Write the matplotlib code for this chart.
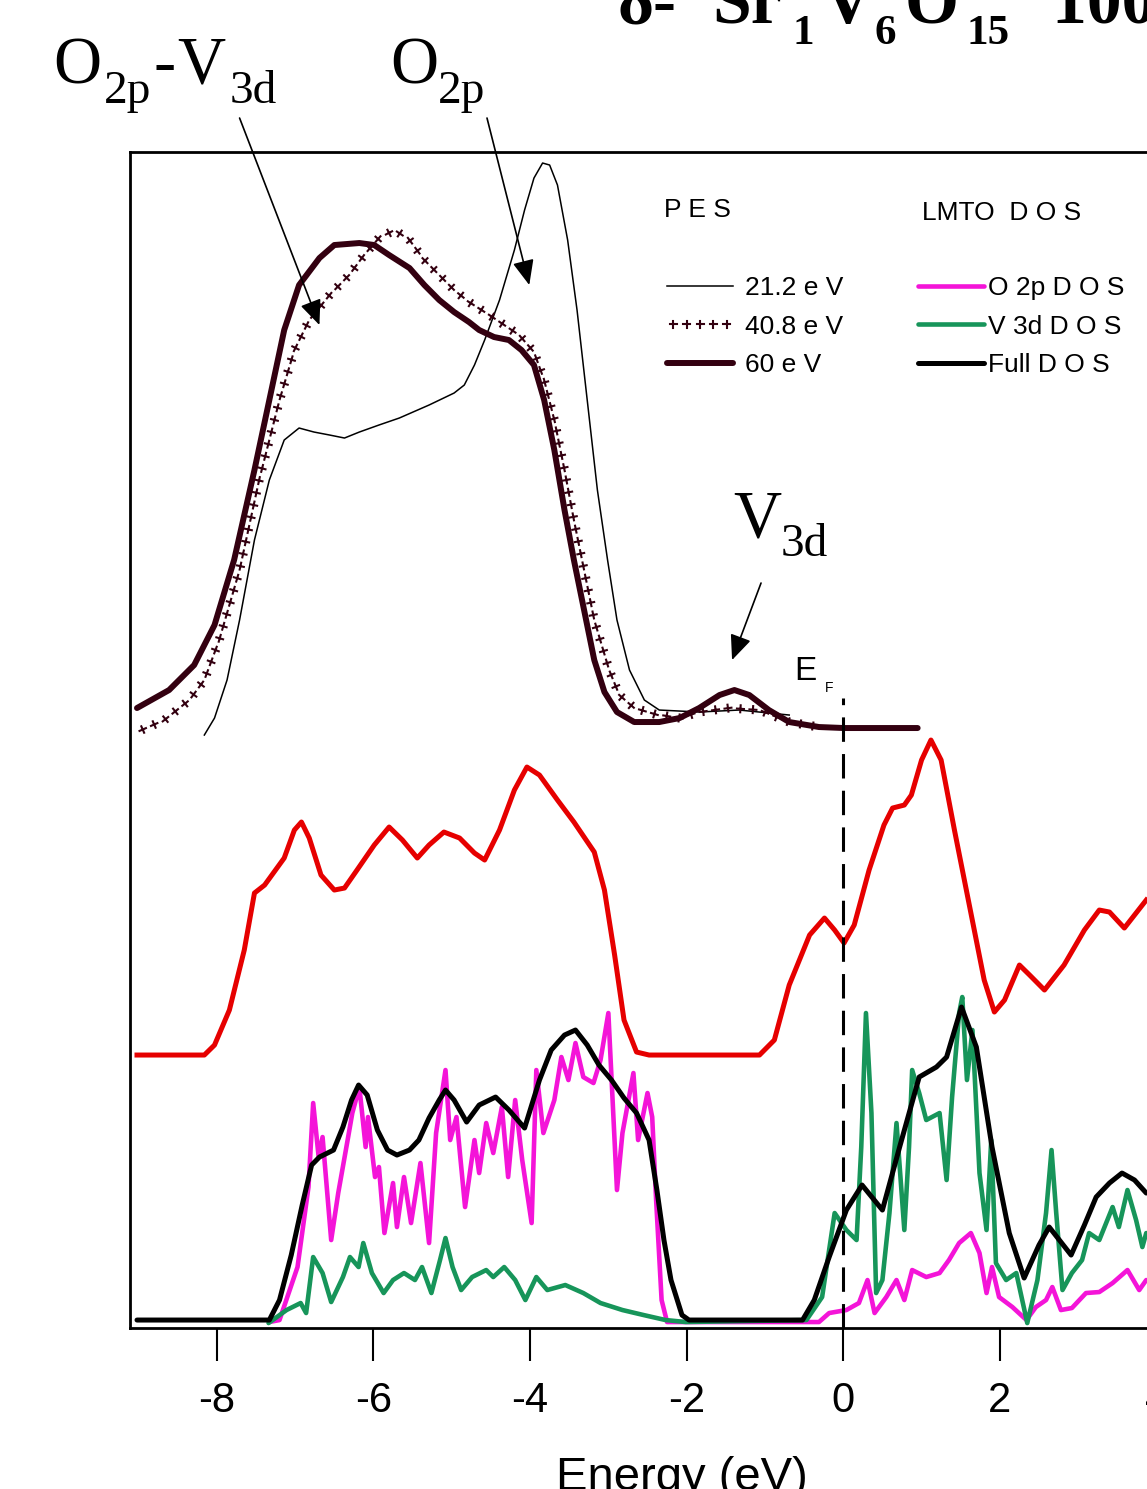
import matplotlib.pyplot as plt
import matplotlib.patheffects as pe

# PES spectra (offset, arb. units) vs energy relative to E_F
e_212 = [-8.16, -8.03, -7.87, -7.71, -7.52, -7.33, -7.14, -6.95, -6.76, -6.56, -6.37, -6.18, -5.93, -5.67,
         -5.29, -4.97, -4.84, -4.71, -4.58, -4.39, -4.20, -4.07, -3.95, -3.84, -3.75, -3.65, -3.52, -3.40,
         -3.27, -3.14, -3.01, -2.89, -2.73, -2.54, -2.35, -1.84, -1.33, -0.69]
i_212 = [5.93, 6.10, 6.48, 7.08, 7.88, 8.48, 8.88, 9.00, 8.96, 8.93, 8.90, 8.96, 9.03, 9.10,
         9.23, 9.35, 9.43, 9.63, 9.88, 10.28, 10.78, 11.18, 11.50, 11.65, 11.63, 11.43, 10.88, 10.18,
         9.28, 8.38, 7.68, 7.08, 6.58, 6.28, 6.18, 6.16, 6.18, 6.13]

e_408 = [-9.02, -8.67, -8.35, -8.16, -7.97, -7.71, -7.46, -7.20, -7.01, -6.82, -6.56, -6.31, -6.12, -5.93,
         -5.73, -5.54, -5.35, -5.16, -4.97, -4.78, -4.52, -4.33, -4.14, -3.95, -3.82, -3.69, -3.56, -3.44,
         -3.31, -3.18, -2.99, -2.86, -2.67, -2.41, -2.09, -1.84, -1.46, -1.07, -0.69, -0.31]
i_408 = [5.96, 6.08, 6.28, 6.48, 6.88, 7.58, 8.48, 9.28, 9.78, 10.08, 10.33, 10.53, 10.73, 10.90,
         10.98, 10.88, 10.68, 10.53, 10.38, 10.26, 10.13, 10.03, 9.93, 9.76, 9.48, 9.08, 8.58, 8.08,
         7.58, 7.08, 6.58, 6.33, 6.20, 6.14, 6.10, 6.16, 6.20, 6.18, 6.06, 6.01]

e_60 = [-9.02, -8.61, -8.29, -8.03, -7.78, -7.52, -7.33, -7.14, -6.95, -6.69, -6.50, -6.18, -5.99, -5.80,
        -5.54, -5.35, -5.16, -4.97, -4.78, -4.65, -4.46, -4.27, -4.11, -3.95, -3.82, -3.69, -3.56, -3.44,
        -3.31, -3.18, -3.05, -2.89, -2.67, -2.35, -2.09, -1.84, -1.58, -1.39, -1.20, -0.95, -0.69, -0.31,
        0.01, 0.95]
i_60 = [6.20, 6.38, 6.63, 7.03, 7.68, 8.58, 9.28, 9.98, 10.43, 10.70, 10.83, 10.85, 10.83, 10.73,
        10.60, 10.43, 10.28, 10.16, 10.06, 9.98, 9.91, 9.88, 9.78, 9.63, 9.28, 8.78, 8.18, 7.68,
        7.18, 6.68, 6.36, 6.16, 6.06, 6.06, 6.10, 6.20, 6.33, 6.38, 6.33, 6.18, 6.06, 6.01,
        6.00, 6.00]

# broadened LMTO DOS (offset)
e_broad = [-9.02, -8.16, -8.03, -7.84, -7.65, -7.52, -7.39, -7.14, -7.01, -6.92, -6.82, -6.67, -6.50, -6.37,
           -6.21, -5.99, -5.80, -5.63, -5.44, -5.29, -5.10, -4.90, -4.71, -4.58, -4.39, -4.20, -4.04, -3.88,
           -3.65, -3.44, -3.18, -3.05, -2.92, -2.80, -2.64, -2.48, -1.07, -0.88, -0.69, -0.43, -0.24, -0.11,
           0.01, 0.14, 0.33, 0.52, 0.63, 0.78, 0.87, 1.00, 1.12, 1.25, 1.42, 1.61, 1.80, 1.93,
           2.06, 2.25, 2.38, 2.57, 2.82, 3.08, 3.27, 3.40, 3.59, 3.87]
i_broad = [2.73, 2.73, 2.83, 3.18, 3.78, 4.35, 4.43, 4.70, 4.98, 5.06, 4.90, 4.53, 4.38, 4.40,
           4.58, 4.83, 5.01, 4.88, 4.70, 4.83, 4.96, 4.90, 4.75, 4.68, 4.98, 5.38, 5.61, 5.53,
           5.28, 5.06, 4.76, 4.38, 3.73, 3.08, 2.76, 2.73, 2.73, 2.88, 3.43, 3.93, 4.10, 3.98,
           3.85, 4.03, 4.58, 5.03, 5.20, 5.23, 5.33, 5.68, 5.88, 5.68, 4.98, 4.23, 3.48, 3.16,
           3.28, 3.63, 3.53, 3.38, 3.63, 3.98, 4.18, 4.16, 4.00, 4.28]

# LMTO partial and total DOS
e_o2p = [-7.33, -7.20, -6.97, -6.83, -6.77, -6.70, -6.65, -6.54, -6.45, -6.33, -6.27, -6.18, -6.10, -6.07,
         -5.98, -5.93, -5.86, -5.75, -5.70, -5.61, -5.52, -5.40, -5.29, -5.20, -5.08, -5.02, -4.94, -4.83,
         -4.71, -4.65, -4.56, -4.47, -4.36, -4.28, -4.19, -4.10, -3.98, -3.92, -3.83, -3.69, -3.60, -3.51,
         -3.42, -3.32, -3.19, -3.10, -3.00, -2.89, -2.82, -2.68, -2.62, -2.50, -2.44, -2.39, -2.32, -2.25,
         -0.31, -0.18, 0.04, 0.20, 0.31, 0.40, 0.55, 0.68, 0.78, 0.88, 1.06, 1.23, 1.35, 1.48,
         1.63, 1.74, 1.83, 1.90, 1.99, 2.16, 2.34, 2.46, 2.59, 2.67, 2.78, 2.92, 3.10, 3.27,
         3.44, 3.63, 3.78, 3.87]
d_o2p = [0.06, 0.08, 0.61, 1.41, 2.25, 1.71, 1.91, 0.88, 1.35, 1.88, 2.15, 2.41, 1.81, 2.11,
         1.51, 1.61, 0.95, 1.45, 1.01, 1.51, 1.05, 1.65, 0.85, 1.95, 2.58, 1.88, 2.11, 1.21,
         1.88, 1.55, 2.05, 1.75, 2.21, 1.51, 2.28, 1.68, 1.05, 2.58, 1.95, 2.28, 2.71, 2.48,
         2.85, 2.51, 2.45, 2.68, 3.15, 1.38, 1.95, 2.55, 1.88, 2.35, 2.11, 1.28, 0.28, 0.06,
         0.06, 0.15, 0.18, 0.25, 0.48, 0.15, 0.31, 0.48, 0.28, 0.58, 0.51, 0.55, 0.68, 0.85,
         0.95, 0.75, 0.35, 0.61, 0.31, 0.21, 0.08, 0.21, 0.28, 0.41, 0.18, 0.20, 0.35, 0.36,
         0.45, 0.58, 0.38, 0.48]

e_v3d = [-7.34, -7.11, -6.93, -6.86, -6.77, -6.65, -6.54, -6.39, -6.30, -6.19, -6.13, -6.02, -5.87, -5.75,
         -5.61, -5.47, -5.38, -5.26, -5.15, -5.08, -4.99, -4.88, -4.74, -4.56, -4.47, -4.33, -4.19, -4.06,
         -3.92, -3.78, -3.55, -3.32, -3.10, -2.82, -2.55, -2.27, -2.01,
         -0.47, -0.27, -0.11, 0.04, 0.17, 0.23, 0.29, 0.36, 0.42, 0.50, 0.59, 0.68, 0.78, 0.84,
         0.88, 0.97, 1.06, 1.23, 1.32, 1.39, 1.48, 1.52, 1.58, 1.65, 1.74, 1.83, 1.89, 1.95,
         2.08, 2.21, 2.35, 2.48, 2.59, 2.66, 2.72, 2.80, 2.92, 3.05, 3.14, 3.27, 3.44, 3.52,
         3.63, 3.74, 3.82, 3.87]
d_v3d = [0.05, 0.18, 0.25, 0.15, 0.71, 0.55, 0.26, 0.51, 0.71, 0.61, 0.85, 0.55, 0.35, 0.48,
         0.55, 0.48, 0.61, 0.35, 0.68, 0.90, 0.61, 0.38, 0.51, 0.58, 0.51, 0.61, 0.48, 0.28,
         0.51, 0.38, 0.43, 0.35, 0.25, 0.18, 0.13, 0.08, 0.06,
         0.08, 0.31, 1.15, 0.98, 0.88, 1.81, 3.15, 2.15, 0.35, 0.48, 1.15, 2.05, 0.98, 1.81,
         2.58, 2.35, 2.08, 2.15, 1.48, 2.31, 3.15, 3.31, 2.48, 2.98, 1.55, 0.98, 1.88, 0.65,
         0.48, 0.55, 0.05, 0.48, 1.15, 1.78, 1.15, 0.38, 0.55, 0.68, 0.95, 0.88, 1.21, 1.01,
         1.38, 1.08, 0.81, 0.95]

e_full = [-9.02, -7.33, -7.20, -7.05, -6.91, -6.79, -6.69, -6.51, -6.39, -6.28, -6.19, -6.08, -5.95, -5.82,
          -5.70, -5.54, -5.42, -5.29, -5.16, -5.08, -4.97, -4.81, -4.65, -4.44, -4.27, -4.07, -3.88, -3.73,
          -3.56, -3.42, -3.27, -3.12, -2.96, -2.80, -2.64, -2.48, -2.38, -2.29, -2.20, -2.06, -1.97, -0.52,
          -0.37, -0.18, 0.04, 0.24, 0.50, 0.72, 0.97, 1.19, 1.32, 1.51, 1.70, 1.90, 2.12, 2.31,
          2.50, 2.63, 2.76, 2.91, 3.08, 3.23, 3.40, 3.56, 3.72, 3.87]
d_full = [0.08, 0.08, 0.28, 0.73, 1.23, 1.63, 1.71, 1.78, 2.01, 2.28, 2.43, 2.33, 1.98, 1.78,
          1.73, 1.78, 1.88, 2.10, 2.28, 2.38, 2.28, 2.06, 2.23, 2.31, 2.18, 2.00, 2.48, 2.78,
          2.93, 2.98, 2.83, 2.63, 2.48, 2.30, 2.15, 1.88, 1.38, 0.88, 0.48, 0.13, 0.08, 0.08,
          0.28, 0.71, 1.18, 1.43, 1.18, 1.81, 2.51, 2.61, 2.71, 3.21, 2.81, 1.81, 0.95, 0.50,
          0.83, 1.01, 0.88, 0.73, 1.03, 1.31, 1.45, 1.55, 1.48, 1.35]

ticks = [-8, -6, -4, -2, 0, 2, 4]
tick_labels = ['-8', '-6', '-4', '-2', '0', '2', '4']
e_fermi = 0.0
fermi_top = 6.3

plt.rcParams['font.family'] = ['Liberation Sans', 'DejaVu Sans']

W, H = 1147, 1489
fig = plt.figure(figsize=(W / 100, H / 100), dpi=100)
ax = fig.add_axes([0.1133, 0.1081, 0.9632, 0.7898])


def put(x, base, s, size, **kw):
    # place a text piece by pixel position (left edge, baseline)
    fig.text(x / W, 1 - base / H, s, fontsize=size, va='baseline', **kw)


dark = '#330010'
# PES curves
l212, = ax.plot(e_212, i_212, color='black', lw=1.1)
plus = [pe.TickedStroke(spacing=9, angle=a, length=0.28) for a in (0, 90, 180, -90)]
l408, = ax.plot(e_408, i_408, color=dark, lw=1.5, path_effects=plus)
l60, = ax.plot(e_60, i_60, color=dark, lw=4.3, solid_capstyle='round')

# broadened DOS
ax.plot(e_broad, i_broad, color='#e60000', lw=3.6)

# partial and full DOS
lo, = ax.plot(e_o2p, d_o2p, color='#f414d8', lw=3.3, solid_capstyle='round')
lv, = ax.plot(e_v3d, d_v3d, color='#17955a', lw=3.3, solid_capstyle='round')
lf, = ax.plot(e_full, d_full, color='black', lw=3.6, solid_capstyle='round')

# Fermi level
ax.vlines(e_fermi, 0, fermi_top, colors='black', linestyles=(0, (8, 4)), lw=2.2)
ax.text(-0.63, 6.48, 'E', fontsize=24, va='baseline')
ax.text(-0.24, 6.36, 'F', fontsize=10, va='baseline')

ax.set_xlim(-9.11, 5.0)
ax.set_ylim(0, 11.76)
ax.set_yticks([])
ax.set_xticks(ticks, tick_labels)
ax.tick_params(axis='x', length=24, width=1.5, pad=14, labelsize=30)
ax.set_xlabel('Energy (eV)', fontsize=34, labelpad=25)
ax.spines['right'].set_visible(False)
for s in ['left', 'top', 'bottom']:
    ax.spines[s].set_linewidth(2)

# legends
lfont = {'size': 19}
ax.text(-2.29, 11.18, 'P E S', fontsize=19, va='center')
ax.text(1.01, 11.15, 'LMTO  D O S', fontsize=19, va='center')
leg1 = ax.legend([l212, l408, l60], ['21.2 e V', '40.8 e V', '60 e V'], loc='upper left',
                 bbox_to_anchor=(-2.25, 10.52), bbox_transform=ax.transData, frameon=False,
                 prop=lfont, handlelength=2.5, handletextpad=0.45, labelspacing=0.55,
                 borderpad=0, borderaxespad=0)
ax.add_artist(leg1)
ax.legend([lo, lv, lf], ['O 2p D O S', 'V 3d D O S', 'Full D O S'], loc='upper left',
          bbox_to_anchor=(0.95, 10.52), bbox_transform=ax.transData, frameon=False,
          prop=lfont, handlelength=2.5, handletextpad=0.15, labelspacing=0.55,
          borderpad=0, borderaxespad=0)

# peak assignments
arrow = dict(arrowstyle='-|>,head_length=0.7,head_width=0.3', color='black', lw=1.2,
             shrinkA=0, shrinkB=0, mutation_scale=22)
ax.annotate('', xy=(-6.69, 10.03), xytext=(-7.71, 12.10), arrowprops=arrow, annotation_clip=False)
ax.annotate('', xy=(-4.01, 10.43), xytext=(-4.55, 12.10), arrowprops=arrow, annotation_clip=False)
ax.annotate('', xy=(-1.42, 6.68), xytext=(-1.05, 7.45), arrowprops=arrow, annotation_clip=False)

serif = {'family': 'Liberation Serif'}
put(53, 83, 'O', 48, **serif)
put(104, 103, '2p', 34, **serif)
put(153, 83, '-', 48, **serif)
put(177, 83, 'V', 48, **serif)
put(230, 103, '3d', 34, **serif)
put(390, 83, 'O', 48, **serif)
put(438, 103, '2p', 34, **serif)
put(733, 537, 'V', 48, **serif)
put(781, 556, '3d', 34, **serif)

# title
bold = {'family': 'Liberation Serif', 'fontweight': 'bold'}
put(618, 23, 'δ-', 50, **bold)
put(712, 23, 'Sr', 50, **bold)
put(793, 44, '1', 31, **bold)
put(822, 23, 'V', 50, **bold)
put(874, 44, '6', 31, **bold)
put(905, 23, 'O', 50, **bold)
put(966, 44, '15', 31, **bold)
put(1052, 23, '100 K', 50, **bold)

fig.savefig('out.png', dpi=100)
